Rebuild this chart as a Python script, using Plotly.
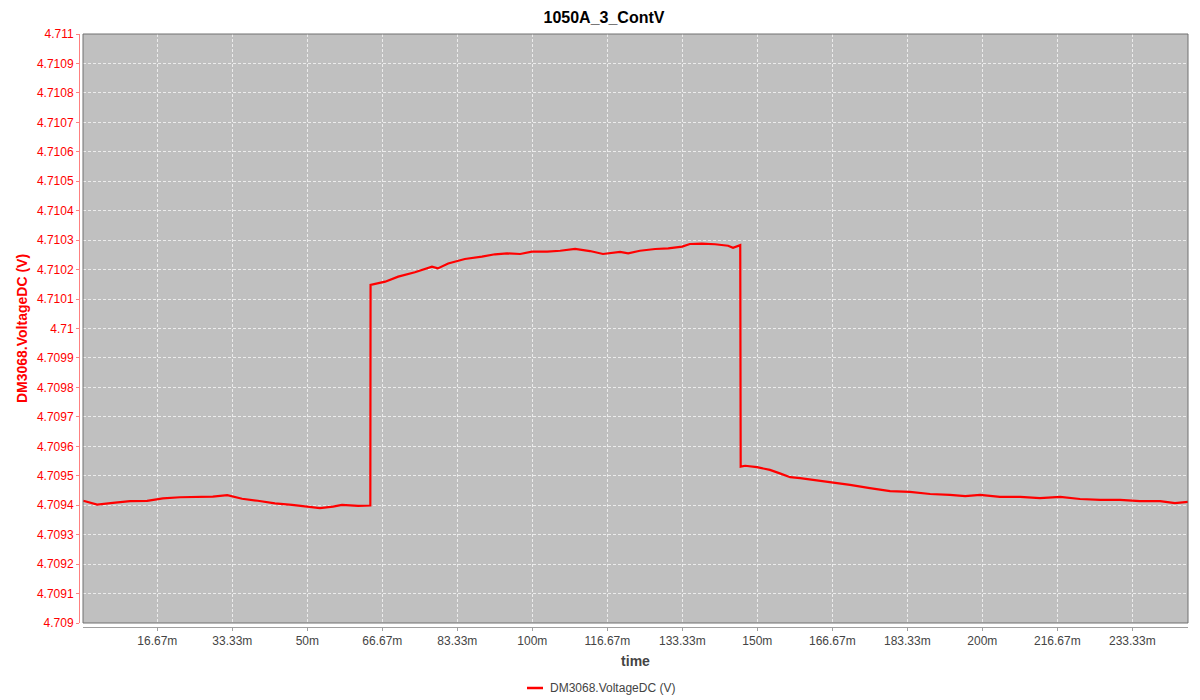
import plotly.graph_objects as go

# ---- data (time in minutes, voltage in V) ----
time = [0.2, 3.3, 6.8, 10.6, 14.4, 17.9, 21.7, 25.5, 29.0, 32.2, 35.5, 39.0, 42.8, 46.6,
        50.2, 52.8, 55.7, 57.7, 61.3, 64.0,
        64.05, 67.3, 70.2, 73.9, 77.7, 79.0, 81.3, 85.0, 88.8, 91.7, 94.4, 97.3, 99.9,
        103.3, 106.2, 109.5, 112.8, 115.7, 119.5, 121.3, 123.9, 127.3, 130.2, 133.3,
        135.0, 137.7, 140.6, 143.5, 144.6, 146.2,
        146.3, 147.3, 149.9, 152.8, 155.0, 157.3, 159.5, 166.2, 170.6, 175.0, 179.5,
        183.9, 188.4, 192.8, 196.2, 199.5, 203.9, 208.4, 212.8, 217.3, 221.7, 226.2,
        230.6, 235.0, 239.5, 242.8, 245.7]
voltage = [4.709415, 4.709402, 4.709408, 4.709414, 4.709415, 4.709423, 4.709427, 4.709427,
           4.709429, 4.709434, 4.709422, 4.709415, 4.709406, 4.709401, 4.709396, 4.709390,
           4.709395, 4.709401, 4.709398, 4.709399,
           4.710148, 4.710159, 4.710176, 4.710191, 4.710210, 4.710204, 4.710221, 4.710236,
           4.710244, 4.710252, 4.710255, 4.710253, 4.710261, 4.710261, 4.710264, 4.710270,
           4.710263, 4.710253, 4.710260, 4.710255, 4.710264, 4.710270, 4.710272, 4.710278,
           4.710287, 4.710288, 4.710286, 4.710281, 4.710274, 4.710283,
           4.709531, 4.709534, 4.709529, 4.709520, 4.709508, 4.709495, 4.709492, 4.709479,
           4.709469, 4.709458, 4.709448, 4.709445, 4.709438, 4.709435, 4.709431, 4.709435,
           4.709428, 4.709428, 4.709424, 4.709428, 4.709421, 4.709418, 4.709418, 4.709414,
           4.709414, 4.709407, 4.709411]

y_tickvals = [4.709, 4.7091, 4.7092, 4.7093, 4.7094, 4.7095, 4.7096, 4.7097, 4.7098, 4.7099,
              4.71, 4.7101, 4.7102, 4.7103, 4.7104, 4.7105, 4.7106, 4.7107, 4.7108, 4.7109, 4.711]
y_ticktext = ["4.709", "4.7091", "4.7092", "4.7093", "4.7094", "4.7095", "4.7096", "4.7097",
              "4.7098", "4.7099", "4.71", "4.7101", "4.7102", "4.7103", "4.7104", "4.7105",
              "4.7106", "4.7107", "4.7108", "4.7109", "4.711"]
x_tickvals = [50/3, 100/3, 50, 200/3, 250/3, 100, 350/3, 400/3, 150, 500/3, 550/3, 200,
              650/3, 700/3]
x_ticktext = ["16.67m", "33.33m", "50m", "66.67m", "83.33m", "100m", "116.67m", "133.33m",
              "150m", "166.67m", "183.33m", "200m", "216.67m", "233.33m"]
series_name = "DM3068.VoltageDC (V)"

FONT = "Liberation Sans, Arial, sans-serif"

fig = go.Figure()
fig.add_trace(go.Scatter(x=time, y=voltage, mode="lines", name=series_name,
                         line=dict(color="#ff0000", width=2.2), showlegend=False))

# page has an 8px body margin, so the figure is sized to fill the 1200x700 window
W, H = 1192, 692
ml, mr, mt, mb = 71, 12, 26, 73
pw, ph = W - ml - mr, H - mt - mb

GRID = "rgba(255,255,255,0.7)"

fig.update_layout(
    width=W, height=H,
    margin=dict(l=ml, r=mr, t=mt, b=mb, autoexpand=False),
    paper_bgcolor="white",
    plot_bgcolor="#c0c0c0",
    font=dict(family=FONT, size=12, color="#444444"),
    title=dict(text="<b>1050A_3_ContV</b>", x=0.5, xanchor="center", y=1 - 9 / H,
               yanchor="middle", font=dict(family=FONT, size=16, color="#000000")),
    showlegend=False,
    xaxis=dict(
        domain=[4 / pw, 1], range=[0.15, 245.7], anchor="free", position=0,
        automargin=False,
        tickvals=x_tickvals, ticktext=x_ticktext,
        showgrid=True, gridcolor=GRID, griddash="3px,2px", gridwidth=1,
        zeroline=False, showline=True, linecolor="#a0a0a0", linewidth=1,
        ticks="outside", ticklen=3, tickcolor="#a0a0a0",
        tickfont=dict(family=FONT, size=12, color="#444444"),
        title=dict(text="<b>time</b>", font=dict(family=FONT, size=14, color="#444444"),
                   standoff=8),
    ),
    yaxis=dict(
        domain=[4 / ph, 1], range=[4.709, 4.711], anchor="free", position=0,
        automargin=False,
        tickvals=y_tickvals, ticktext=y_ticktext,
        showgrid=True, gridcolor=GRID, griddash="3px,2px", gridwidth=1,
        zeroline=False, showline=True, linecolor="#ff8080", linewidth=1,
        ticks="outside", ticklen=3, tickcolor="#ff8080",
        tickfont=dict(family=FONT, size=12, color="#ff0000"),
        title=dict(text="<b>DM3068.VoltageDC (V)</b>",
                   font=dict(family=FONT, size=14, color="#ff0000"), standoff=4),
    ),
)

fig.add_shape(type="rect", xref="x domain", yref="y domain", x0=0, x1=1, y0=0, y1=1,
              line=dict(color="#707070", width=1), fillcolor="rgba(0,0,0,0)", layer="above")

# legend (drawn below the axis title, as in the reference)
leg_y = -(680 - (H - mb)) / ph
fig.add_shape(type="line", xref="paper", yref="paper",
              x0=(519 - ml) / pw, x1=(535 - ml) / pw, y0=leg_y, y1=leg_y,
              line=dict(color="#ff0000", width=2.5))
fig.add_annotation(text=series_name, xref="paper", yref="paper", x=(540 - ml) / pw, y=leg_y,
                   xanchor="left", yanchor="middle", showarrow=False,
                   font=dict(family=FONT, size=12, color="#444444"))

fig.write_html("out.html")
